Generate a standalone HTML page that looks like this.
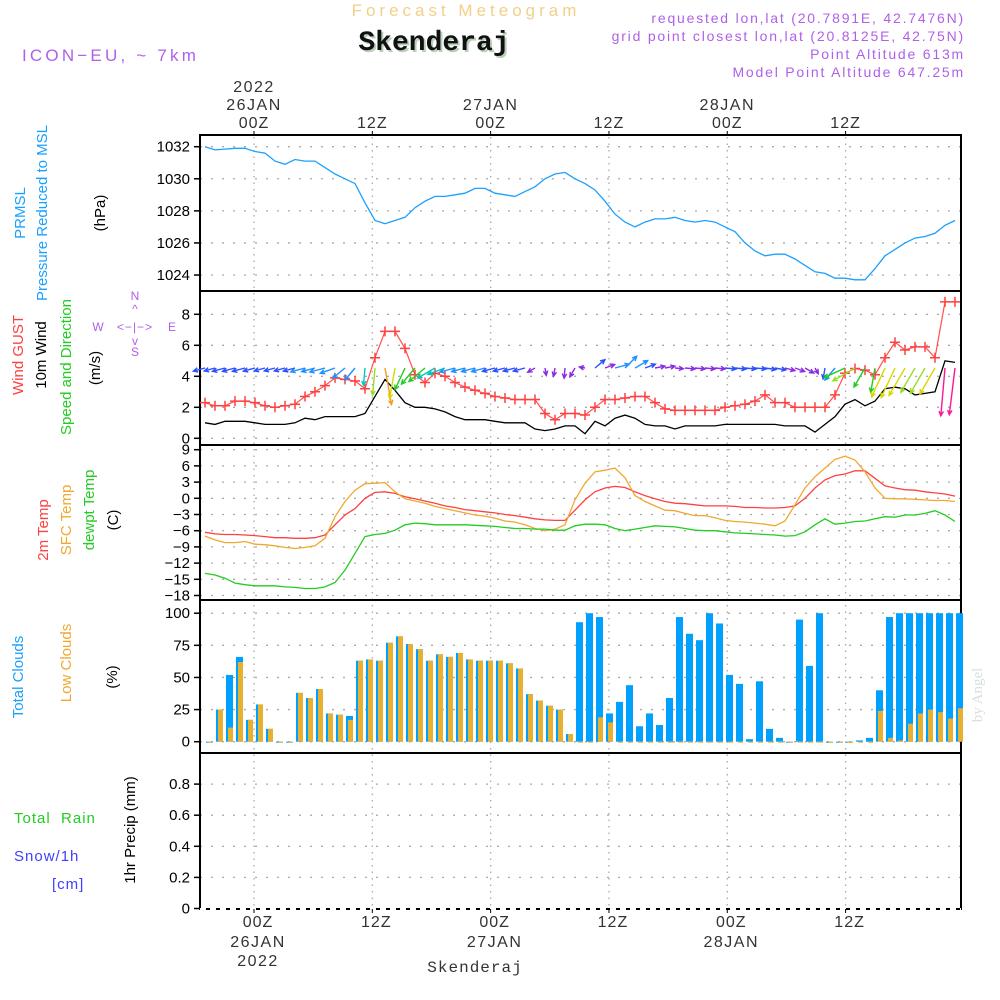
<!DOCTYPE html>
<html><head><meta charset="utf-8"><style>
html,body{margin:0;padding:0;background:#fff;}
svg{display:block;font-family:"Liberation Sans",sans-serif;}
</style></head><body>
<svg id="chart" width="1000" height="1000" viewBox="0 0 1000 1000" xmlns="http://www.w3.org/2000/svg">
<text x="466" y="16" text-anchor="middle" font-size="17" fill="#f3cf8a" letter-spacing="4">Forecast Meteogram</text>
<text x="434" y="50" text-anchor="middle" font-size="28" font-weight="bold" font-family="Liberation Mono, monospace" fill="#b8d0b8" dx="2" dy="2">Skenderaj</text>
<text x="434" y="50" text-anchor="middle" font-size="28" font-weight="bold" font-family="Liberation Mono, monospace" fill="#111">Skenderaj</text>
<text x="22" y="61" font-size="17" fill="#b060e8" letter-spacing="3.2">ICON−EU, ~ 7km</text>
<g font-size="14" fill="#b060e8" text-anchor="end" letter-spacing="1.8">
<text x="965" y="23">requested lon,lat (20.7891E, 42.7476N)</text>
<text x="965" y="41">grid point closest lon,lat (20.8125E, 42.75N)</text>
<text x="965" y="59">Point Altitude 613m</text>
<text x="965" y="77">Model Point Altitude 647.25m</text>
</g>
<g id="frame"></g>
<g id="marks"></g>
<g font-size="15">
<text transform="translate(25,213) rotate(-90)" text-anchor="middle" fill="#1aa0ff">PRMSL</text>
<text transform="translate(47,213) rotate(-90)" text-anchor="middle" fill="#1aa0ff">Pressure Reduced to MSL</text>
<text transform="translate(105,213) rotate(-90)" text-anchor="middle" fill="#000">(hPa)</text>
<text transform="translate(23,355) rotate(-90)" text-anchor="middle" fill="#ff4040">Wind GUST</text>
<text transform="translate(46,355) rotate(-90)" text-anchor="middle" fill="#000">10m Wind</text>
<text transform="translate(71,367) rotate(-90)" text-anchor="middle" fill="#22cc22">Speed and Direction</text>
<text transform="translate(100,368) rotate(-90)" text-anchor="middle" fill="#000">(m/s)</text>
<text transform="translate(48,530) rotate(-90)" text-anchor="middle" fill="#ff4040">2m Temp</text>
<text transform="translate(71,520) rotate(-90)" text-anchor="middle" fill="#f0a830">SFC Temp</text>
<text transform="translate(94,510) rotate(-90)" text-anchor="middle" fill="#22cc22">dewpt Temp</text>
<text transform="translate(118,520) rotate(-90)" text-anchor="middle" fill="#000">(C)</text>
<text transform="translate(23,677) rotate(-90)" text-anchor="middle" fill="#1aa0ff">Total Clouds</text>
<text transform="translate(71,663) rotate(-90)" text-anchor="middle" fill="#f0a830">Low Clouds</text>
<text transform="translate(117,677) rotate(-90)" text-anchor="middle" fill="#000">(%)</text>
<text x="14" y="823" fill="#22cc22" xml:space="preserve" letter-spacing="1">Total  Rain</text>
<text x="14" y="861" fill="#4040ff" letter-spacing="1">Snow/1h</text>
<text x="52" y="889" fill="#4040ff" letter-spacing="1">[cm]</text>
<text transform="translate(135,830) rotate(-90)" text-anchor="middle" fill="#000">1hr Precip (mm)</text>
</g>
<g font-size="12" fill="#b060e8" text-anchor="middle">
<text x="135" y="300">N</text><text x="135" y="313">^</text><text x="135" y="331" letter-spacing="1">&lt;−|−&gt;</text>
<text x="98" y="331">W</text><text x="172" y="331">E</text><text x="135" y="345">v</text><text x="135" y="356">S</text>
</g>
<text transform="translate(982,695) rotate(-90)" text-anchor="middle" font-size="15" fill="#d8e0d8" font-family="Liberation Serif, serif">by Angel</text>
<text x="475" y="972" text-anchor="middle" font-size="16" letter-spacing="1" font-family="Liberation Mono, monospace" fill="#333">Skenderaj</text>
</svg>
<script>
const pressure=[1032.0,1031.8,1031.85,1031.9,1031.9,1031.7,1031.6,1031.1,1030.9,1031.2,1031.1,1031.1,1030.7,1030.3,1030.0,1029.7,1028.5,1027.4,1027.2,1027.4,1027.6,1028.2,1028.6,1028.9,1028.9,1029.0,1029.1,1029.4,1029.4,1029.1,1029.0,1028.9,1029.2,1029.5,1030.0,1030.3,1030.4,1030.0,1029.7,1029.3,1028.6,1027.8,1027.3,1027.0,1027.3,1027.5,1027.5,1027.6,1027.4,1027.3,1027.4,1027.3,1027.0,1026.7,1026.0,1025.5,1025.2,1025.3,1025.3,1025.0,1024.6,1024.2,1024.1,1023.8,1023.8,1023.7,1023.7,1024.4,1025.2,1025.6,1026.0,1026.3,1026.4,1026.6,1027.1,1027.4];
const gust=[2.3,2.1,2.1,2.4,2.4,2.3,2.1,2.0,2.1,2.2,2.7,3.0,3.4,3.9,3.8,3.7,3.2,5.2,6.9,6.9,5.8,4.1,3.6,4.2,4.0,3.6,3.3,3.1,2.9,2.7,2.6,2.5,2.5,2.5,1.6,1.2,1.6,1.6,1.5,2.0,2.5,2.5,2.6,2.7,2.7,2.3,1.9,1.8,1.8,1.8,1.8,1.8,2.0,2.1,2.2,2.4,2.8,2.3,2.3,2.0,2.0,2.0,2.0,2.8,4.2,4.5,4.4,4.1,5.2,6.2,5.7,5.9,5.9,5.2,8.8,8.8];
const wind=[1.0,0.9,1.1,1.1,1.1,1.0,0.9,0.9,0.9,1.0,1.3,1.2,1.4,1.4,1.4,1.4,1.6,2.7,3.8,3.1,2.3,2.0,2.0,1.9,1.7,1.4,1.2,1.2,1.2,1.1,1.0,1.0,1.0,0.6,0.5,0.6,0.8,0.8,0.3,1.1,0.8,1.3,1.5,1.3,0.9,0.8,0.8,0.6,0.8,0.8,0.8,0.8,0.9,0.9,0.9,0.9,0.9,0.9,0.8,0.8,0.8,0.4,0.9,1.4,2.2,2.5,2.1,2.4,3.2,3.3,3.2,2.8,2.9,3.0,5.0,4.9];
const windDir=[165,165,165,165,165,165,165,165,165,165,165,165,165,160,140,130,95,95,80,100,115,130,140,150,160,165,165,165,165,165,165,165,165,150,80,100,95,120,190,-40,-20,-15,-45,-30,-20,-10,-10,5,5,5,5,5,5,5,5,5,8,10,15,20,30,60,100,130,155,150,120,100,115,115,120,120,120,120,95,97];
const temp2m=[-6.3,-6.6,-6.7,-6.7,-6.8,-6.9,-7.1,-7.3,-7.3,-7.4,-7.4,-7.3,-6.8,-4.9,-3.1,-1.9,0,1.1,1.2,0.9,0.3,-0.1,-0.5,-0.9,-1.4,-1.7,-2.1,-2.3,-2.5,-2.7,-3.0,-3.2,-3.5,-3.8,-4.0,-4.1,-4.1,-2.2,-0.3,1.2,1.9,2.2,2.0,1.2,0.5,-0.1,-0.6,-0.9,-1.0,-1.2,-1.4,-1.4,-1.4,-1.5,-1.7,-1.7,-1.8,-1.8,-1.7,-1.4,0,1.9,3.4,4.2,4.5,5.1,5.1,3.7,2.3,1.9,1.6,1.5,1.2,1.0,0.8,0.4];
const tempSfc=[-7.0,-7.7,-8.2,-8.2,-8.0,-8.5,-8.6,-8.8,-9.1,-9.3,-9.1,-8.8,-7.4,-3.4,-0.6,1.5,2.7,2.8,2.9,1.2,-0.1,-0.5,-0.9,-1.5,-1.9,-2.3,-2.7,-3.1,-3.3,-3.7,-4.2,-4.4,-4.9,-5.6,-6.0,-5.7,-4.9,-0.3,2.8,4.9,5.2,5.6,3.8,0.5,-0.6,-1.4,-2.2,-2.3,-2.8,-3.2,-3.2,-3.6,-4.1,-4.3,-4.4,-4.6,-4.8,-5.1,-4.2,-1.2,1.9,4.0,5.6,7.2,7.8,7.1,4.9,1.9,0,-0.1,-0.1,-0.2,-0.3,-0.4,-0.4,-0.6];
const dewpt=[-13.9,-14.2,-14.8,-15.7,-16.0,-16.2,-16.2,-16.2,-16.4,-16.5,-16.7,-16.7,-16.4,-15.6,-13.3,-10.2,-7.1,-6.7,-6.5,-5.9,-4.9,-4.6,-4.7,-4.9,-4.9,-4.9,-4.9,-5.0,-5.1,-5.2,-5.4,-5.6,-5.6,-5.7,-5.7,-5.9,-5.9,-5.1,-4.8,-4.8,-4.9,-5.6,-6.0,-5.7,-5.4,-5.1,-5.2,-5.3,-5.6,-5.9,-6.0,-6.0,-6.2,-6.4,-6.5,-6.6,-6.7,-6.8,-7.0,-6.9,-6.2,-4.9,-3.8,-4.8,-4.6,-4.3,-4.2,-3.8,-3.4,-3.5,-3.1,-3.1,-2.8,-2.3,-3.1,-4.3];
const totalClouds=[0,25,52,66,17,29,10,0,0,38,34,41,22,21,20,63,64,63,77,82,76,72,63,68,66,69,64,63,63,63,61,57,37,32,28,25,6,93,100,97,22,31,44,12,22,13,34,97,84,79,100,92,52,45,2,47,10,3,0,95,59,100,0,0,0,1,3,40,97,100,100,100,100,100,100,100];
const lowClouds=[0,25,11,62,17,29,10,0,0,38,34,41,22,21,17,63,64,63,77,82,76,72,63,68,66,69,64,63,63,63,61,57,37,32,28,25,6,0,0,19,15,0,0,0,0,0,0,0,0,0,0,0,0,0,0,0,0,0,0,0,0,0,0,0,0,0,0,24,3,1,14,22,25,23,18,26];
const precip=[];
const pressureTicks=[1024,1026,1028,1030,1032];
const windTicks=[0,2,4,6,8];
const tempTicks=[-18,-15,-12,-9,-6,-3,0,3,6,9];
const cloudTicks=[0,25,50,75,100];
const precipTicks=["0","0.2","0.4","0.6","0.8"];
const timeTickHours=[0,12,24,36,48,60];
const timeTickLabels=["00Z","12Z","00Z","12Z","00Z","12Z"];
const dayLabels=["26JAN","","27JAN","","28JAN",""];

const NS="http://www.w3.org/2000/svg";
const frame=document.getElementById('frame'), marks=document.getElementById('marks');
function mk(tag,attrs,parent,text){const e=document.createElementNS(NS,tag);for(const k in attrs)e.setAttribute(k,attrs[k]);if(text!==undefined)e.textContent=text;(parent||marks).appendChild(e);return e;}
const X0=200,X1=961;
const xLine=k=>205+10*k;
const xBar=k=>209.5+10*k;
const xHour=h=>254+h*9.86;
const yP=v=>146.7+(1032-v)*16.04;
const yW=v=>438.3-v*15.5;
const yT=v=>498.3-v*5.4;
const yC=v=>741.7-v*1.285;
const yR=v=>908.5-v*155.5;
const panels=[[135,291],[291,445],[445,600],[600,753],[753,909]];

timeTickHours.forEach(h=>{const x=xHour(h);
 const g=mk('line',{x1:x,x2:x,y1:137,y2:907,stroke:'#aaa','stroke-width':1.3,'stroke-dasharray':'1.5,5'},frame);
 
 
});
function hgrid(ticks,ys,labelFn,name){ticks.forEach(t=>{const y=ys(parseFloat(t));
 const g=mk('line',{x1:X0,x2:X1,y1:y,y2:y,stroke:'#aaa','stroke-width':1.3,'stroke-dasharray':'2,9'},frame);
 
 
 const tk=mk('line',{x1:194,x2:X0,y1:y,y2:y,stroke:'#000','stroke-width':1.5},frame);
 
 
 const tx=mk('text',{x:190,y:y+5,'text-anchor':'end','font-size':15,fill:'#000'},frame,labelFn(t));
 
 
});}
hgrid(pressureTicks,yP,t=>t,'pressure');
hgrid(windTicks,yW,t=>t,'wind');
hgrid(tempTicks,yT,t=>t<0?'−'+(-t):t,'temp');
hgrid(cloudTicks,yC,t=>t,'cloud');
hgrid(precipTicks,yR,t=>t,'precip');

panels.forEach((p,i)=>{const r=mk('rect',{x:X0,y:p[0],width:X1-X0,height:p[1]-p[0],fill:'none',stroke:'#000','stroke-width':2},frame);
 
 
});
const bl=mk('line',{x1:X0,x2:X1,y1:909,y2:909,stroke:'#fff','stroke-width':2,'stroke-dasharray':'6,4'},frame);



timeTickHours.forEach((h,i)=>{const x=xHour(h);
 const t1=mk('text',{x:x,y:128,'text-anchor':'middle','font-size':16,'letter-spacing':1,fill:'#333'},frame,timeTickLabels[i]);
 
 
 const t2=mk('text',{x:x+4,y:927,'text-anchor':'middle','font-size':16,'letter-spacing':1,fill:'#333'},frame,timeTickLabels[i]);
 
 
 mk('line',{x1:x,x2:x,y1:131,y2:135,stroke:'#000'},frame);
 mk('line',{x1:x,x2:x,y1:909,y2:913,stroke:'#000'},frame);
 if(dayLabels[i]){
  const d1=mk('text',{x:x,y:110,'text-anchor':'middle','font-size':16,'letter-spacing':1.5,fill:'#333'},frame,dayLabels[i]);
  
  
  const d2=mk('text',{x:x+4,y:947,'text-anchor':'middle','font-size':16,'letter-spacing':1.5,fill:'#333'},frame,dayLabels[i]);
  
  
 }
});
const y1=mk('text',{x:xHour(0),y:92,'text-anchor':'middle','font-size':16,'letter-spacing':1.5,fill:'#333'},frame,'2022');


const y2=mk('text',{x:xHour(0)+4,y:966,'text-anchor':'middle','font-size':16,'letter-spacing':1.5,fill:'#333'},frame,'2022');



function line(arr,ys,color,name,w){const d=arr.map((v,k)=>(k?'L':'M')+xLine(k).toFixed(1)+','+ys(v).toFixed(1)).join('');
 const p=mk('path',{d:d,fill:'none',stroke:color,'stroke-width':w||1.3});
 
 
}
totalClouds.forEach((v,k)=>{const c=xBar(k);
 const b=mk('rect',{x:c-3.5,y:yC(v),width:7,height:Math.max(1,yC(0)-yC(v)),fill:'#00a0ff'});
 
 
 const lv=lowClouds[k];
 const o=mk('rect',{x:c-1.5,y:yC(lv),width:5,height:Math.max(1,yC(0)-yC(lv)),fill:'#e8b030'});
 
 
});
line(pressure,yP,'#1aa0ff','pressure-line');
line(temp2m,yT,'#ff4040','temp-2m-line');
line(tempSfc,yT,'#f0a830','sfc-temp-line');
line(dewpt,yT,'#22cc22','dewpt-line');
line(wind,yW,'#000','wind-speed-line');
line(gust,yW,'#ff5050','gust-line',1.2);
gust.forEach((v,k)=>{const x=xLine(k),y=yW(v);
 const p=mk('path',{d:`M${x-5},${y}H${x+5}M${x},${y-5}V${y+5}`,stroke:'#ff4040','stroke-width':1.5});
 
 
});
function spdColor(s){if(s<0.9)return'#8a2be2';if(s<1.2)return'#2a50ff';if(s<1.6)return'#1e90ff';if(s<2.0)return'#00c8c0';if(s<2.5)return'#22cc22';if(s<3.0)return'#99dd22';if(s<3.5)return'#d8d800';if(s<4.5)return'#f0a020';return'#ff1493';}
wind.forEach((s,k)=>{const x=xLine(k),y=368,a=windDir[k]*Math.PI/180,L=9*s+3;
 const ex=x+L*Math.cos(a),ey=y+L*Math.sin(a);
 const h1=a+Math.PI-0.45,h2=a+Math.PI+0.45;
 const d=`M${x.toFixed(1)},${y}L${ex.toFixed(1)},${ey.toFixed(1)}M${(ex+5*Math.cos(h1)).toFixed(1)},${(ey+5*Math.sin(h1)).toFixed(1)}L${ex.toFixed(1)},${ey.toFixed(1)}L${(ex+5*Math.cos(h2)).toFixed(1)},${(ey+5*Math.sin(h2)).toFixed(1)}`;
 const p=mk('path',{d:d,fill:'none',stroke:spdColor(s),'stroke-width':1.4});
 
 
});
</script>
</body></html>
